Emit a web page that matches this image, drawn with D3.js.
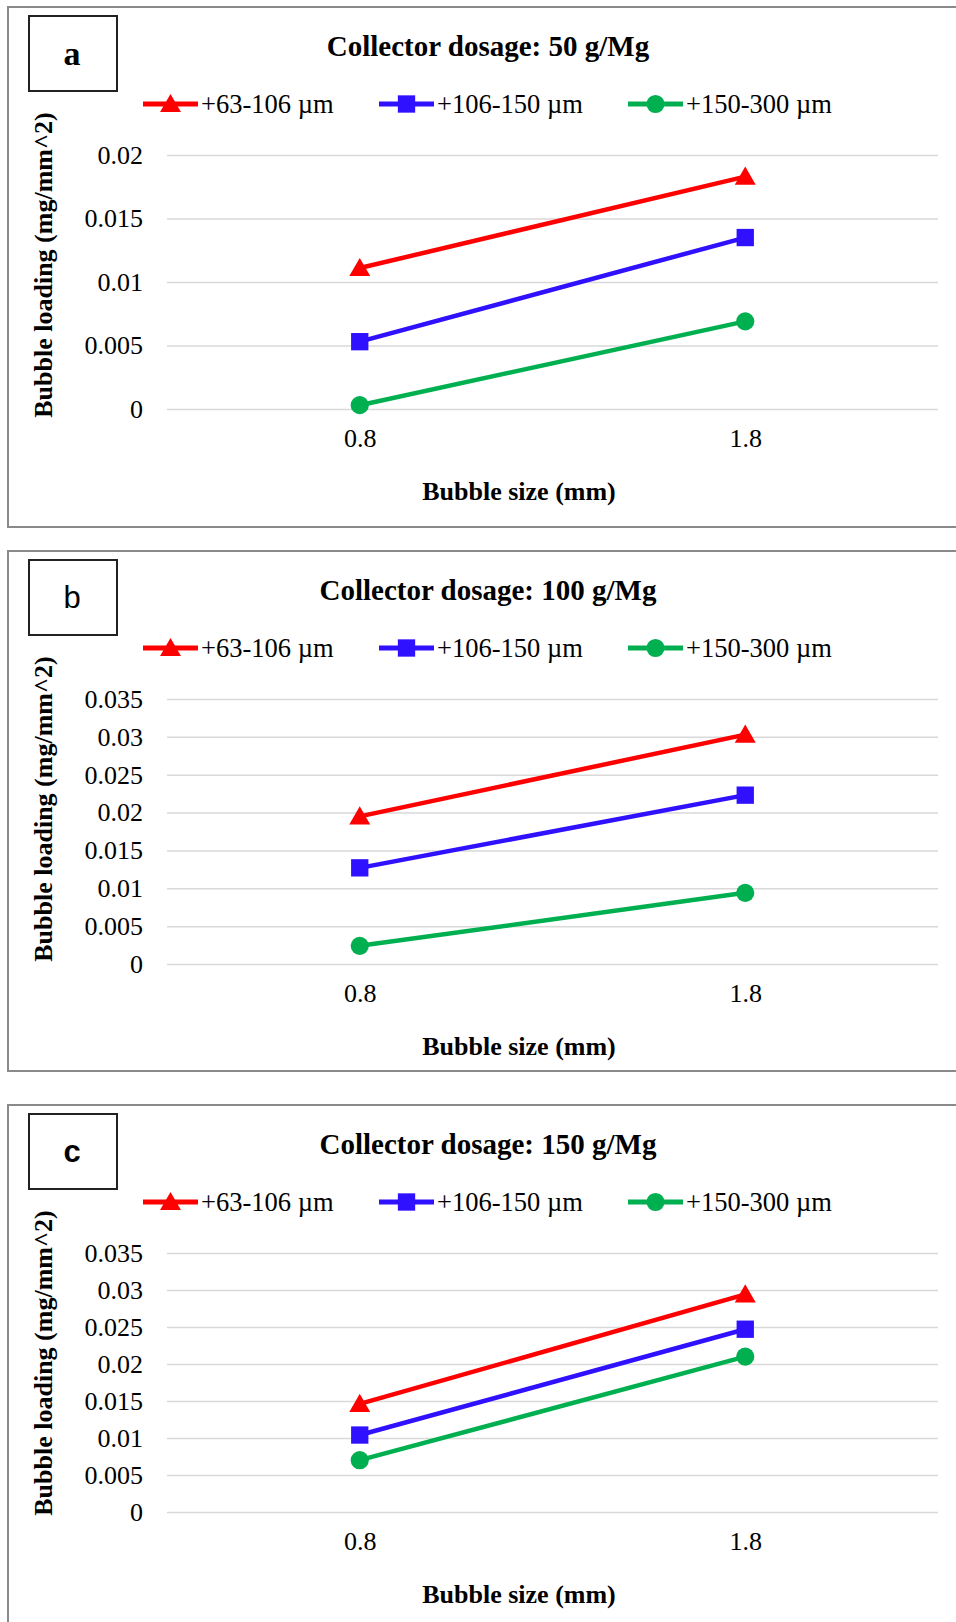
<!DOCTYPE html>
<html>
<head>
<meta charset="utf-8">
<script src="https://cdn.jsdelivr.net/npm/d3@7"></script>
<style>
  body { margin: 0; background: #fff; }
  svg { display: block; }
  text { font-family: "Liberation Serif", "Times New Roman", serif; fill: #000; }
</style>
</head>
<body>
<svg id="chart"></svg>
<script>
var width = 956,
    height = 1622;

// data
var bubbleSizes = ["0.8", "1.8"];
var sizeFractions = ["+63-106 µm", "+106-150 µm", "+150-300 µm"];
var dosages = ["50 g/Mg", "100 g/Mg", "150 g/Mg"];
var panelLetters = ["a", "b", "c"];
var yMaxes = [0.02, 0.035, 0.035];
var tickStep = 0.005;

var dose50 = [
  [0.0111, 0.0183],
  [0.0053, 0.0135],
  [0.0003, 0.0069]
];
var dose100 = [
  [0.0195, 0.0303],
  [0.0127, 0.0223],
  [0.0024, 0.0094]
];
var dose150 = [
  [0.0146, 0.0294],
  [0.0104, 0.0247],
  [0.0070, 0.0210]
];
var panelData = [dose50, dose100, dose150];

var colors = ["#ff0000", "#2f10ff", "#00b050"];
var symbols = [d3.symbolTriangle, d3.symbolSquare, d3.symbolCircle];
var symbolSizes = [190, 300, 260];

// panel layout
var panelTops = [7, 551, 1105],
    plotTops = [155, 699, 1253],
    plotBottoms = [409, 964, 1512],
    plotLeft = 167,
    plotRight = 938;

var svg = d3.select("#chart").attr("width", width).attr("height", height);

var x = d3.scalePoint()
    .domain(bubbleSizes)
    .range([plotLeft, plotRight])
    .padding(0.5);

var legendX = [143, 379, 628];

panelLetters.forEach(function(letter, p) {
  var top = panelTops[p];
  var g = svg.append("g").attr("class", "panel-" + letter);

  g.append("rect")
      .attr("x", 8).attr("y", top)
      .attr("width", 970).attr("height", 520)
      .attr("fill", "none")
      .attr("stroke", "#8a8a8a")
      .attr("stroke-width", 2);

  // letter box
  g.append("rect")
      .attr("x", 29).attr("y", top + 9)
      .attr("width", 88).attr("height", 75)
      .attr("fill", "#fff")
      .attr("stroke", "#222")
      .attr("stroke-width", 2);
  g.append("text")
      .attr("x", 72).attr("y", top + 46)
      .attr("text-anchor", "middle")
      .attr("dominant-baseline", "central")
      .style("font-family", letter === "a" ? "'Liberation Serif', serif" : "'Liberation Sans', Arial, sans-serif")
      .style("font-weight", letter === "b" ? "normal" : "bold")
      .style("font-size", letter === "a" ? "34px" : "31px")
      .text(letter);

  g.append("text")
      .attr("x", 488).attr("y", top + 39)
      .attr("text-anchor", "middle")
      .attr("dominant-baseline", "central")
      .style("font-weight", "bold")
      .style("font-size", "29px")
      .text("Collector dosage: " + dosages[p]);

  // legend
  sizeFractions.forEach(function(name, i) {
    var lg = g.append("g").attr("transform", "translate(" + legendX[i] + "," + (top + 97) + ")");
    lg.append("line")
        .attr("x1", 0).attr("x2", 55)
        .attr("stroke", colors[i])
        .attr("stroke-width", 5);
    lg.append("path")
        .attr("transform", "translate(27.5," + (i === 0 ? 2 : 0) + ")")
        .attr("d", d3.symbol().type(symbols[i]).size(symbolSizes[i]))
        .attr("fill", colors[i]);
    lg.append("text")
        .attr("x", 58).attr("y", 0)
        .attr("dominant-baseline", "central")
        .style("font-size", "26.5px")
        .text(name);
  });

  var y = d3.scaleLinear()
      .domain([0, yMaxes[p]])
      .range([plotBottoms[p], plotTops[p]]);

  var ticks = d3.range(0, yMaxes[p] + tickStep / 2, tickStep);

  var yAxis = g.append("g")
      .attr("transform", "translate(" + plotLeft + ",0)")
      .call(d3.axisLeft(y)
        .tickValues(ticks)
        .tickSize(-(plotRight - plotLeft))
        .tickPadding(24)
        .tickFormat(function(d) { return String(+d.toFixed(3)); }));
  yAxis.select(".domain").remove();
  yAxis.selectAll(".tick line")
      .attr("stroke", "#d9d9d9")
      .attr("stroke-width", 1.5);
  yAxis.selectAll(".tick text")
      .style("font-family", "'Liberation Serif', serif")
      .style("font-size", "26px")
      .attr("fill", "#000");

  var xAxis = g.append("g")
      .attr("transform", "translate(0," + plotBottoms[p] + ")")
      .call(d3.axisBottom(x).tickSize(0).tickPadding(20));
  xAxis.select(".domain").remove();
  xAxis.selectAll(".tick text")
      .style("font-family", "'Liberation Serif', serif")
      .style("font-size", "26px")
      .attr("fill", "#000");

  g.append("text")
      .attr("x", 519).attr("y", plotBottoms[p] + 82)
      .attr("text-anchor", "middle")
      .attr("dominant-baseline", "central")
      .style("font-weight", "bold")
      .style("font-size", "26px")
      .text("Bubble size (mm)");

  g.append("text")
      .attr("transform", "translate(43," + (top + 258) + ") rotate(-90)")
      .attr("text-anchor", "middle")
      .attr("dominant-baseline", "central")
      .style("font-weight", "bold")
      .style("font-size", "26px")
      .text("Bubble loading (mg/mm^2)");

  var line = d3.line()
      .x(function(d, k) { return x(bubbleSizes[k]); })
      .y(function(d) { return y(d); });

  panelData[p].forEach(function(values, i) {
    g.append("path")
        .datum(values)
        .attr("d", line)
        .attr("fill", "none")
        .attr("stroke", colors[i])
        .attr("stroke-width", 4.5);

    g.selectAll(".pt-" + i)
        .data(values)
        .enter().append("path")
        .attr("class", "pt-" + i)
        .attr("transform", function(d, k) {
          return "translate(" + x(bubbleSizes[k]) + "," + (y(d) + (i === 0 ? 2 : 0)) + ")";
        })
        .attr("d", d3.symbol().type(symbols[i]).size(symbolSizes[i]))
        .attr("fill", colors[i]);
  });
});
</script>
</body>
</html>
